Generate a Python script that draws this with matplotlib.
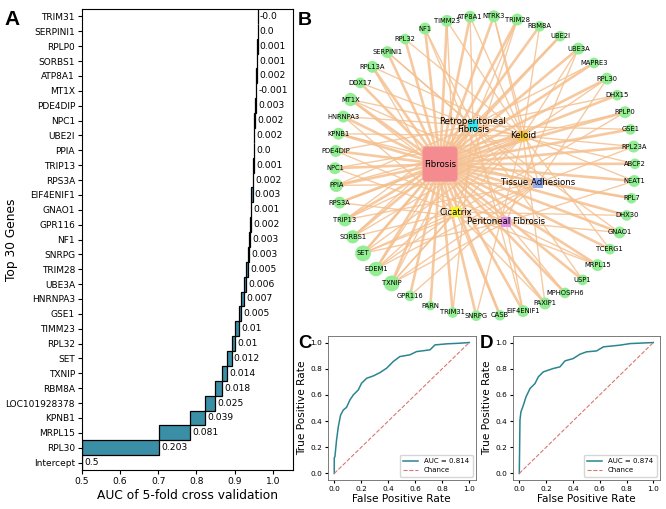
import numpy as np
import matplotlib
matplotlib.use("Agg")
import matplotlib.pyplot as plt
from matplotlib.patches import FancyBboxPatch

# ---------------- data ----------------
# Panel A (bottom -> top)
genes_a = ["Intercept", "RPL30", "MRPL15", "KPNB1", "LOC101928378", "RBM8A", "TXNIP",
           "SET", "RPL32", "TIMM23", "GSE1", "HNRNPA3", "UBE3A", "TRIM28", "SNRPG",
           "NF1", "GPR116", "GNAO1", "EIF4ENIF1", "RPS3A", "TRIP13", "PPIA", "UBE2I",
           "NPC1", "PDE4DIP", "MT1X", "ATP8A1", "SORBS1", "RPLP0", "SERPINI1", "TRIM31"]
contrib_a = [0.5, 0.203, 0.081, 0.039, 0.025, 0.018, 0.014, 0.012, 0.01, 0.01, 0.005,
             0.007, 0.006, 0.005, 0.003, 0.003, 0.002, 0.001, 0.003, 0.002, 0.001, 0.0,
             0.002, 0.002, 0.003, -0.001, 0.002, 0.001, 0.001, 0.0, -0.0]

# Panel B network
diseases = ["Fibrosis", "Retroperitoneal\nFibrosis", "Keloid", "Tissue Adhesions",
            "Cicatrix", "Peritoneal Fibrosis"]
disease_codes = ["F", "R", "K", "T", "C", "P"]
ring_genes = ["ATP8A1", "NTRK3", "TRIM28", "RBM8A", "UBE2I", "UBE3A", "MAPRE3", "RPL30",
              "DHX15", "RPLP0", "GSE1", "RPL23A", "ABCF2", "NEAT1", "RPL7", "DHX30",
              "GNAO1", "TCERG1", "MRPL15", "USP1", "MPHOSPH6", "PAXIP1", "EIF4ENIF1",
              "CASB", "SNRPG", "TRIM31", "PARN", "GPR116", "TXNIP", "EDEM1", "SET",
              "SORBS1", "TRIP13", "RPS3A", "PPIA", "NPC1", "PDE4DIP", "KPNB1",
              "HNRNPA3", "MT1X", "DDX17", "RPL13A", "SERPINI1", "RPL32", "NF1", "TIMM23"]
gene_links = ["FRK", "FKT", "FRC", "FK", "FR", "FKP", "FR", "FKT", "FR", "FKC", "FR",
              "FKT", "FR", "FKP", "FT", "FC", "FRP", "FK", "FPC", "FR", "FP", "FKC",
              "FRP", "FC", "FK", "FR", "F", "FT", "FRKTCP", "FRKTC", "FRKTCP", "FRKC",
              "FRKT", "FKP", "FRKT", "FKC", "FRP", "FKT", "FRC", "FKTP", "FR", "FKC",
              "FRT", "FK", "FRP", "FKC"]

# Panel C / D ROC curves
fpr_c = [0.0, 0.0, 0.005, 0.017, 0.03, 0.047, 0.067, 0.091, 0.116, 0.141, 0.178, 0.202,
         0.24, 0.289, 0.338, 0.388, 0.437, 0.486, 0.56, 0.61, 0.709, 0.746, 0.832, 0.93, 1.0]
tpr_c = [0.0, 0.12, 0.128, 0.255, 0.357, 0.446, 0.485, 0.505, 0.561, 0.6, 0.638, 0.689,
         0.727, 0.745, 0.77, 0.804, 0.855, 0.893, 0.906, 0.931, 0.944, 0.982, 0.99, 0.995, 1.0]
fpr_d = [0.0, 0.005, 0.012, 0.03, 0.05, 0.08, 0.117, 0.142, 0.179, 0.254, 0.303, 0.341,
         0.403, 0.453, 0.502, 0.577, 0.627, 0.751, 0.826, 1.0]
tpr_d = [0.0, 0.407, 0.47, 0.52, 0.585, 0.649, 0.687, 0.738, 0.776, 0.802, 0.814, 0.86,
         0.878, 0.911, 0.929, 0.936, 0.967, 0.98, 0.992, 1.0]
auc_c = 0.814
auc_d = 0.874

# ---------------- figure ----------------
fig = plt.figure(figsize=(6.66, 5.09), dpi=100)
W, H = 666, 509

def px_axes(l, t, r, b):
    return fig.add_axes([l / W, 1 - b / H, (r - l) / W, (b - t) / H])

# ---- Panel A ----
axA = px_axes(82, 9, 293, 470)
bar_color = "#3a8ea5"
lefts = np.concatenate([[0.0], np.cumsum(contrib_a)[:-1]])
ypos = np.arange(len(genes_a))
axA.barh(ypos, contrib_a, left=lefts, height=1.0, color=bar_color,
         edgecolor="black", linewidth=0.9)
for y, l, v in zip(ypos, lefts, contrib_a):
    xt = max(l, l + v)
    axA.text(xt + 0.006, y, str(v), va="center", ha="left", fontsize=6.6)
axA.set_yticks(ypos)
axA.set_yticklabels(genes_a, fontsize=6.5)
axA.set_xlim(0.5, 1.053)
axA.set_ylim(-0.5, 30.5)
axA.tick_params(axis="x", labelsize=6.6, length=3, pad=2)
axA.tick_params(axis="y", length=3, pad=2)
axA.set_xlabel("AUC of 5-fold cross validation", fontsize=8.8, labelpad=2)
axA.set_ylabel("Top 30 Genes", fontsize=8.8)
axA.yaxis.set_label_coords(-0.305, 0.5)

# ---- Panel B ----
cx, cy, R = 485, 166, 150
axB = px_axes(300, 0, 666, 335)
axB.set_xlim((300 - cx) / R, (666 - cx) / R)
axB.set_ylim(-(335 - cy) / R, cy / R)
axB.axis("off")

disease_pos = {"F": (-0.30, 0.013), "R": (-0.08, 0.27), "K": (0.253, 0.2),
               "T": (0.355, -0.113), "C": (-0.193, -0.307), "P": (0.14, -0.373)}
disease_col = {"F": "#f38b8f", "R": "#3ae6ec", "K": "#f2c53a", "T": "#94aef0",
               "C": "#f7f52a", "P": "#e38fe9"}
n = len(ring_genes)
t = np.deg2rad(91 + 180 / n - np.arange(n) * 360 / n)
angles = t - 0.08 * np.sin(2 * t)          # circular layout, slightly spread at top/bottom
gx, gy = np.cos(angles), np.sin(angles)

edge_col = "#f5c08f"
for i, links in enumerate(gene_links):
    for code in links:
        dx, dy = disease_pos[code]
        lw = 1.9 if code == "F" else 1.0
        axB.plot([gx[i], dx], [gy[i], dy], color=edge_col, lw=lw, alpha=0.85,
                 zorder=1, solid_capstyle="butt")

deg = np.array([len(s) for s in gene_links])
diam_px = 8.0 + 1.3 * deg
axB.scatter(gx, gy, s=(diam_px * 0.72) ** 2, color="#93ee93", edgecolors="none",
            zorder=2)
for i, g in enumerate(ring_genes):
    axB.text(gx[i], gy[i], g, ha="center", va="center", fontsize=4.9, zorder=4)

# disease nodes
fx, fy = disease_pos["F"]
box = 0.23
axB.add_patch(FancyBboxPatch((fx - box / 2 + 0.02, fy - box / 2 + 0.02), box - 0.04,
                             box - 0.04, boxstyle="round,pad=0.02",
                             facecolor=disease_col["F"], edgecolor="#f0a0a0",
                             lw=0.5, zorder=3))
for code, name in zip(disease_codes, diseases):
    x, y = disease_pos[code]
    if code != "F":
        axB.scatter([x], [y], marker="s", s=55, color=disease_col[code], zorder=3,
                    edgecolors="none")
    axB.text(x, y, name, ha="center", va="center", fontsize=6.2, zorder=4,
             linespacing=1.0)

# ---- Panels C, D ----
def roc(ax, fpr, tpr, auc):
    ax.plot(fpr, tpr, color="#2b8591", lw=1.1, label="AUC = %.3f" % auc)
    ax.plot([0, 1], [0, 1], ls="--", color="#d9776f", lw=0.8, label="Chance")
    ax.set_xlim(-0.05, 1.05)
    ax.set_ylim(-0.05, 1.05)
    ax.set_xticks([0, 0.2, 0.4, 0.6, 0.8, 1.0])
    ax.set_yticks([0, 0.2, 0.4, 0.6, 0.8, 1.0])
    ax.tick_params(labelsize=5.3, length=2, pad=2)
    ax.set_xlabel("False Positive Rate", fontsize=7.6, labelpad=2)
    ax.set_ylabel("True Positive Rate", fontsize=7.6, labelpad=2)
    for s in ax.spines.values():
        s.set_linewidth(0.6)
        s.set_color("#666666")
    ax.legend(loc="lower right", fontsize=5, frameon=True, handlelength=2.2,
              borderpad=0.5, labelspacing=0.4, fancybox=True)

axC = px_axes(327.5, 336, 476, 480)
roc(axC, fpr_c, tpr_c, auc_c)
axD = px_axes(512.6, 336, 660, 480)
roc(axD, fpr_d, tpr_d, auc_d)

# panel letters
for lab, x, y, fs in [("A", 4, 25, 15), ("B", 298, 25, 14), ("C", 298, 348, 13.5),
                      ("D", 480, 348, 13.5)]:
    fig.text(x / W, 1 - y / H, lab, fontsize=fs, fontweight="bold",
             family="Liberation Sans", ha="left", va="baseline")

fig.savefig("out.png", dpi=100)
